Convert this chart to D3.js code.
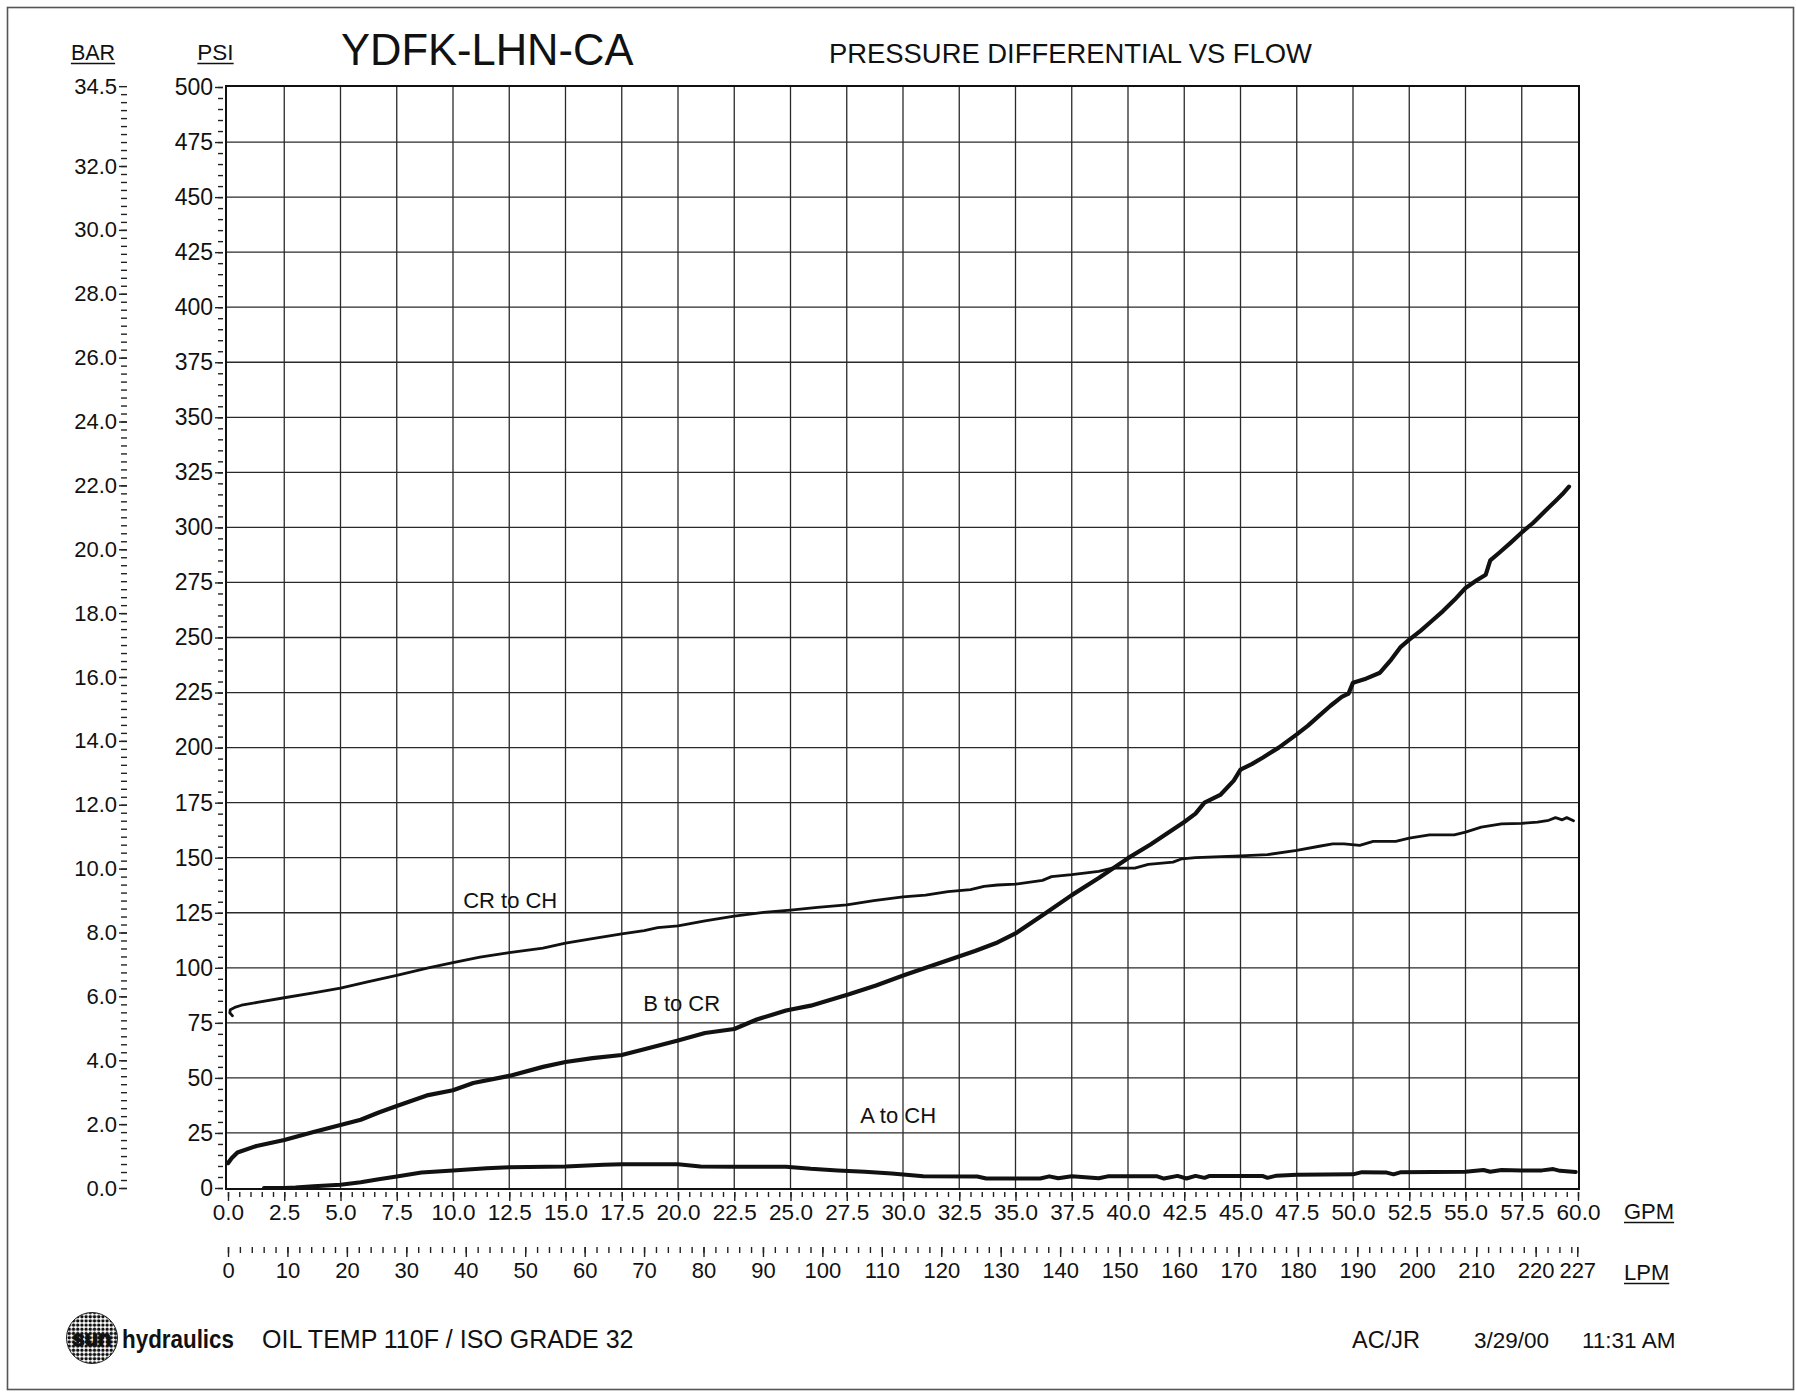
<!DOCTYPE html>
<html>
<head>
<meta charset="utf-8">
<script src="https://cdn.jsdelivr.net/npm/d3@7"></script>
<style>
  html, body { margin: 0; padding: 0; background: #fff; }
  svg { display: block; }
  text { font-family: "Liberation Sans", Arial, Helvetica, sans-serif; fill: #111; }
</style>
</head>
<body>
<svg id="chart" width="1796" height="1392"></svg>
<script>
// ---- measured pressure differential (psi) vs flow (GPM) ----
const crToCh = [
  [0.2,78.2],[0.08,79.6],[0.1,81],[0.3,82],[0.6,83],[1.3,84.3],[2.5,86.4],[3.8,88.6],[5.0,90.8],
  [6.2,93.6],[7.5,96.6],[8.9,100],[10.0,102.4],[11.2,104.8],[12.5,106.9],[14.0,108.9],[15.0,111.2],
  [16.2,113.3],[17.5,115.4],[18.5,116.9],[19.1,118.2],[20.0,119],[21.2,121.3],[22.5,123.5],[23.8,125.2],
  [25.0,126.2],[26.2,127.4],[27.5,128.6],[28.7,130.5],[30.0,132.2],[31.0,133],[32.0,134.6],[33.0,135.5],
  [33.6,137],[34.2,137.6],[35.0,138],[36.2,139.7],[36.6,141.4],[37.5,142.3],[38.7,143.8],[39.3,145.3],
  [40.3,145.3],[40.9,147],[42.0,148],[42.4,149.5],[43.0,150],[45.0,150.8],[46.2,151.4],[47.5,153.3],
  [48.5,155.2],[49.1,156.3],[49.6,156.3],[50.3,155.6],[50.9,157.4],[51.9,157.4],[52.5,158.9],[53.4,160.4],
  [54.5,160.4],[55.0,161.6],[55.7,163.9],[56.6,165.4],[57.5,165.6],[58.2,166.2],[58.7,167],[59.0,168.2],
  [59.3,167.2],[59.5,168.2],[59.8,166.8]
];
const bToCr = [
  [0,11.3],[0.17,13.6],[0.42,16.1],[1.27,19.1],[2.5,21.8],[3.8,25.4],[5.0,28.6],[5.9,31],[6.7,34.3],
  [7.5,37.2],[8.9,42.2],[10.0,44.4],[10.9,47.7],[12.5,50.9],[14.0,55],[15.0,57.2],[16.2,59],[17.5,60.4],
  [18.5,63],[20.0,67],[21.2,70.4],[22.5,72.2],[23.5,76.5],[24.8,80.6],[25.9,82.8],[27.6,88],[28.8,92],
  [30.1,96.8],[31.7,102.4],[33.2,107.6],[34.2,111.5],[35,115.6],[36.3,124.5],[37.5,133],[38.7,140.8],
  [40,149.8],[41,156],[41.7,160.8],[42.5,166.2],[43.0,170],[43.4,175],[44.1,178.5],[44.7,185],[45.0,190],
  [45.5,192.5],[46.0,195.5],[46.7,200],[47.5,206],[48.0,210],[48.5,214.5],[49.0,219],[49.5,223],
  [49.8,224.5],[50.0,229.5],[50.5,231],[51.2,234],[51.7,240],[52.1,245.5],[52.5,249],[53.0,253],
  [53.5,257.5],[54.0,262],[54.5,267],[55.0,272.5],[55.5,276],[55.9,278.5],[56.1,285],[56.5,288.5],
  [57.0,293],[57.5,297.7],[58.0,302],[58.55,307.6],[59.0,312],[59.3,315],[59.6,318.5]
];
const aToCh = [
  [1.6,0],[2.5,0],[3.0,0.2],[3.8,0.8],[5.0,1.5],[5.9,2.6],[6.7,4.0],[7.5,5.2],[8.6,7.0],[10.0,8.0],
  [11.5,9.0],[12.5,9.4],[15.0,9.8],[16.7,10.6],[17.5,10.8],[20.0,10.8],[21.0,9.8],[22.5,9.6],[24.8,9.6],
  [25.9,8.7],[27.1,8.0],[28.3,7.4],[29.5,6.6],[30.9,5.3],[33.3,5.2],[33.7,4.3],[36.1,4.3],[36.5,5.3],
  [36.9,4.4],[37.5,5.3],[38.7,4.4],[39.1,5.3],[41.3,5.3],[41.6,4.3],[42.2,5.5],[42.6,4.3],[43.0,5.5],
  [43.4,4.6],[43.6,5.4],[46.0,5.4],[46.2,4.6],[46.6,5.6],[47.5,6.0],[50.0,6.2],[50.4,7.2],[51.5,7.0],
  [51.8,6.2],[52.1,7.1],[55.0,7.4],[55.8,8.2],[56.1,7.4],[56.6,8.2],[57.5,8.0],[58.4,8.0],[58.9,8.6],
  [59.2,7.8],[59.9,7.3]
];

// ---- curve names and where they are annotated (GPM, psi) ----
const seriesLabels = [
  { name: "CR to CH", gpm: 10.45, psi: 127 },
  { name: "B to CR",  gpm: 18.45, psi: 80.4 },
  { name: "A to CH",  gpm: 28.1,  psi: 29.7 }
];

// ---- axis ticks ----
const gpmTicks = [0,2.5,5,7.5,10,12.5,15,17.5,20,22.5,25,27.5,30,32.5,35,37.5,40,42.5,45,47.5,50,52.5,55,57.5,60];
const psiTicks = [0,25,50,75,100,125,150,175,200,225,250,275,300,325,350,375,400,425,450,475,500];
const barTicks = [0,2,4,6,8,10,12,14,16,18,20,22,24,26,28,30,32,34.5];
const lpmTicks = [0,10,20,30,40,50,60,70,80,90,100,110,120,130,140,150,160,170,180,190,200,210,220,227];

const PSI_PER_BAR = 14.5038;
const LPM_PER_GPM = 3.78541;

const svg = d3.select("#chart");

// page border
svg.append("rect")
  .attr("x", 7.5).attr("y", 7.5).attr("width", 1786).attr("height", 1382)
  .attr("fill", "none").attr("stroke", "#555").attr("stroke-width", 1.6);

// plot area
const L = 226, R = 1579, T = 86, B = 1189;
const x = d3.scaleLinear().domain([0, 60]).range([228, 1578]);
const y = d3.scaleLinear().domain([0, 500]).range([1188, 87]);
const yBar = d3.scaleLinear().domain([0, 500 / PSI_PER_BAR]).range([1188, 87]);
const xLpm = d3.scaleLinear().domain([0, 60 * LPM_PER_GPM]).range([228, 1578]);

// grid
const grid = svg.append("g").attr("stroke", "#2a2a2a").attr("stroke-width", 1.3);
grid.selectAll("line.v").data(gpmTicks.filter(d => d > 0 && d < 60)).join("line")
  .attr("x1", d => x(d)).attr("x2", d => x(d)).attr("y1", T).attr("y2", B);
grid.selectAll("line.h").data(psiTicks.filter(d => d > 0 && d < 500)).join("line")
  .attr("x1", L).attr("x2", R).attr("y1", d => y(d)).attr("y2", d => y(d));

svg.append("rect")
  .attr("x", L).attr("y", T).attr("width", R - L).attr("height", B - T)
  .attr("fill", "none").attr("stroke", "#111").attr("stroke-width", 2);

function styleAxis(g, fontSize) {
  g.select(".domain").remove();
  g.selectAll(".tick line").attr("stroke", "#222").attr("stroke-width", 1.4);
  g.selectAll(".tick text")
    .attr("font-size", fontSize)
    .attr("font-family", "Liberation Sans, Arial, sans-serif")
    .attr("fill", "#111");
}

// PSI axis
const psiMinor = d3.range(0, 501, 5);
svg.append("g").attr("transform", `translate(223,0)`)
  .call(d3.axisLeft(y).tickValues(psiMinor).tickSize(5).tickFormat(""))
  .call(g => styleAxis(g, 23));
svg.append("g").attr("transform", `translate(223,0)`)
  .call(d3.axisLeft(y).tickValues(psiTicks).tickSize(8).tickPadding(2).tickFormat(d3.format("d")))
  .call(g => styleAxis(g, 23));

// BAR axis
const barMinor = d3.range(0, 34.5, 0.25);
svg.append("g").attr("transform", `translate(127,0)`)
  .call(d3.axisLeft(yBar).tickValues(barMinor).tickSize(6).tickFormat(""))
  .call(g => styleAxis(g, 22));
svg.append("g").attr("transform", `translate(127,0)`)
  .call(d3.axisLeft(yBar).tickValues(barTicks).tickSize(8).tickPadding(2).tickFormat(d3.format(".1f")))
  .call(g => styleAxis(g, 22));

// GPM axis
const gpmMinor = d3.range(0, 60.01, 0.5);
svg.append("g").attr("transform", `translate(0,1192)`)
  .call(d3.axisBottom(x).tickValues(gpmMinor).tickSize(5).tickFormat(""))
  .call(g => styleAxis(g, 22.5));
svg.append("g").attr("transform", `translate(0,1192)`)
  .call(d3.axisBottom(x).tickValues(gpmTicks).tickSize(9).tickPadding(3).tickFormat(d3.format(".1f")))
  .call(g => styleAxis(g, 22.5));

// LPM axis
const lpmMinor = d3.range(0, 227, 2).concat([227]);
svg.append("g").attr("transform", `translate(0,1247)`)
  .call(d3.axisBottom(xLpm).tickValues(lpmMinor).tickSize(6).tickFormat(""))
  .call(g => styleAxis(g, 22));
svg.append("g").attr("transform", `translate(0,1247)`)
  .call(d3.axisBottom(xLpm).tickValues(lpmTicks).tickSize(10).tickPadding(5).tickFormat(d3.format("d")))
  .call(g => styleAxis(g, 22));

// curves
const line = d3.line().x(d => x(d[0])).y(d => y(d[1])).curve(d3.curveLinear);
const curves = svg.append("g").attr("fill", "none").attr("stroke", "#111")
  .attr("stroke-linejoin", "round").attr("stroke-linecap", "round");
curves.append("path").datum(crToCh).attr("d", line).attr("stroke-width", 2.8);
curves.append("path").datum(bToCr).attr("d", line).attr("stroke-width", 4.2);
curves.append("path").datum(aToCh).attr("d", line).attr("stroke-width", 4);

svg.append("g").selectAll("text").data(seriesLabels).join("text")
  .attr("x", d => x(d.gpm)).attr("y", d => y(d.psi))
  .attr("font-size", 22).text(d => d.name);

// headings
function underlined(txt, xPos, yPos, size, anchor) {
  const t = svg.append("text").attr("x", xPos).attr("y", yPos)
    .attr("font-size", size).attr("text-anchor", anchor || "start").text(txt);
  const bb = t.node().getBBox();
  svg.append("line").attr("x1", bb.x).attr("x2", bb.x + bb.width)
    .attr("y1", yPos + 3.5).attr("y2", yPos + 3.5)
    .attr("stroke", "#111").attr("stroke-width", 1.6);
}
underlined("BAR", 93, 60, 21.5, "middle");
underlined("PSI", 215.5, 60, 22.5, "middle");
underlined("GPM", 1624, 1219, 22, "start");
underlined("LPM", 1624, 1280, 22, "start");

svg.append("text").attr("x", 341).attr("y", 65).attr("font-size", 43.5).text("YDFK-LHN-CA");
svg.append("text").attr("x", 829).attr("y", 63).attr("font-size", 27.4).text("PRESSURE DIFFERENTIAL VS FLOW");

// footer
const defs = svg.append("defs");
const pat = defs.append("pattern").attr("id", "halftone")
  .attr("width", 4.2).attr("height", 4.2).attr("patternUnits", "userSpaceOnUse");
pat.append("rect").attr("width", 4.2).attr("height", 4.2).attr("fill", "#fff");
pat.append("circle").attr("cx", 2.1).attr("cy", 2.1).attr("r", 1.7).attr("fill", "#111");

svg.append("circle").attr("cx", 92).attr("cy", 1338).attr("r", 25.5)
  .attr("fill", "url(#halftone)").attr("stroke", "#222").attr("stroke-width", 1);
svg.append("text").attr("x", 92).attr("y", 1346).attr("text-anchor", "middle")
  .attr("font-size", 22).attr("font-weight", "bold")
  .attr("font-family", "DejaVu Sans Condensed, Liberation Sans, sans-serif")
  .attr("fill", "#fff").attr("stroke", "#111").attr("stroke-width", 1.2)
  .text("sun");
svg.append("text").attr("x", 122).attr("y", 1348)
  .attr("font-size", 25).attr("font-weight", "bold")
  .attr("font-family", "DejaVu Sans Condensed, Liberation Sans, sans-serif")
  .attr("textLength", 112).attr("lengthAdjust", "spacingAndGlyphs")
  .text("hydraulics");

svg.append("text").attr("x", 262).attr("y", 1348).attr("font-size", 25).text("OIL TEMP 110F / ISO GRADE 32");
svg.append("text").attr("x", 1352).attr("y", 1348).attr("font-size", 23.5).text("AC/JR");
svg.append("text").attr("x", 1474).attr("y", 1348).attr("font-size", 22.5).text("3/29/00");
svg.append("text").attr("x", 1582).attr("y", 1348).attr("font-size", 22.5).text("11:31 AM");
</script>
</body>
</html>
